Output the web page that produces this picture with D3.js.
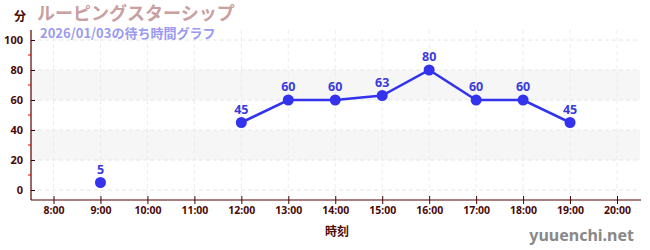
<!DOCTYPE html>
<html>
<head>
<meta charset="utf-8">
<script src="https://cdn.jsdelivr.net/npm/d3@7"></script>
<style>
  body { margin: 0; background: #fff; }
  text { font-family: "Noto Sans CJK JP", "Noto Sans", sans-serif; }
</style>
</head>
<body>
<svg id="chart"></svg>
<script>
// chart data
const hours = ['8:00', '9:00', '10:00', '11:00', '12:00', '13:00', '14:00', '15:00', '16:00', '17:00', '18:00', '19:00', '20:00'];
const waits = [null, 5, null, null, 45, 60, 60, 63, 80, 60, 60, 45, null];
const yTicks = [0, 20, 40, 60, 80, 100];
const yMinor = [10, 30, 50, 70, 90];
const bands = [[20, 40], [60, 80]];
const title = 'ルーピングスターシップ';
const subtitle = '2026/01/03の待ち時間グラフ';

const width = 650, height = 250;
const margin = { top: 30, right: 10, bottom: 50, left: 31 };

const svg = d3.select('#chart')
    .attr('width', width)
    .attr('height', height);

const x = d3.scalePoint()
    .domain(hours)
    .range([53.5, 617]);

const y = d3.scaleLinear()
    .domain([0, 100])
    .range([190, 40]);

const axisY = 200;

// background bands
svg.selectAll('.band')
    .data(bands)
    .enter()
    .append('rect')
    .attr('x', margin.left)
    .attr('y', d => y(d[1]))
    .attr('width', 640 - margin.left)
    .attr('height', d => y(d[0]) - y(d[1]))
    .attr('fill', '#f6f6f6');

// grid lines
svg.selectAll('.hgrid')
    .data(yTicks)
    .enter()
    .append('line')
    .attr('x1', margin.left).attr('x2', 640)
    .attr('y1', d => y(d)).attr('y2', d => y(d))
    .attr('stroke', '#e6e6e6')
    .attr('stroke-dasharray', '4,3');

svg.selectAll('.vgrid')
    .data(hours)
    .enter()
    .append('line')
    .attr('x1', d => x(d)).attr('x2', d => x(d))
    .attr('y1', 30).attr('y2', axisY)
    .attr('stroke', '#ececec')
    .attr('stroke-dasharray', '4,3');

// y axis
const yAxis = d3.axisLeft(y).tickValues(yTicks).tickSize(5).tickPadding(3);
const gy = svg.append('g')
    .attr('transform', `translate(${margin.left},0)`)
    .call(yAxis);
gy.select('.domain').remove();
gy.selectAll('.tick line').attr('x2', 4).attr('stroke', '#400');
gy.selectAll('.tick text')
    .attr('fill', '#4a0a0a')
    .style('font-size', '11px')
    .style('font-weight', 'bold')
    .style('font-family', '"Noto Sans", sans-serif');
svg.append('line')
    .attr('x1', margin.left).attr('x2', margin.left)
    .attr('y1', 30).attr('y2', axisY)
    .attr('stroke', '#500')
    .attr('stroke-width', 1.2);

svg.selectAll('.minor')
    .data(yMinor)
    .enter()
    .append('line')
    .attr('x1', margin.left - 3).attr('x2', margin.left)
    .attr('y1', d => y(d)).attr('y2', d => y(d))
    .attr('stroke', '#d00');

// x axis
const xAxis = d3.axisBottom(x).tickSize(4).tickPadding(3);
const gx = svg.append('g')
    .attr('transform', `translate(0,${axisY})`)
    .call(xAxis);
gx.select('.domain').remove();
gx.selectAll('.tick line').attr('y1', -4).attr('y2', 4).attr('stroke', '#400');
gx.selectAll('.tick text')
    .attr('fill', '#4a0a0a')
    .style('font-size', '10.5px')
    .style('font-weight', 'bold')
    .style('font-family', '"Noto Sans", sans-serif');
svg.append('line')
    .attr('x1', margin.left).attr('x2', 641)
    .attr('y1', axisY).attr('y2', axisY)
    .attr('stroke', '#500')
    .attr('stroke-width', 1.2);

// series
const pts = hours.map((h, i) => ({ h, v: waits[i] }));
const line = d3.line()
    .defined(d => d.v !== null)
    .x(d => x(d.h))
    .y(d => y(d.v));

svg.append('path')
    .datum(pts)
    .attr('d', line)
    .attr('fill', 'none')
    .attr('stroke', '#3333ee')
    .attr('stroke-width', 2.5);

const valid = pts.filter(d => d.v !== null);
svg.selectAll('.dot')
    .data(valid)
    .enter()
    .append('circle')
    .attr('cx', d => x(d.h))
    .attr('cy', d => y(d.v))
    .attr('r', 5.5)
    .attr('fill', '#3333ee');

svg.selectAll('.lbl')
    .data(valid)
    .enter()
    .append('text')
    .attr('x', d => x(d.h))
    .attr('y', d => y(d.v) - 9)
    .attr('text-anchor', 'middle')
    .attr('fill', '#3b3bdd')
    .style('font-size', '12.5px')
    .style('font-weight', 'bold')
    .style('font-family', '"Noto Sans", sans-serif')
    .text(d => d.v);

// titles
svg.append('text')
    .attr('x', 14).attr('y', 21)
    .attr('fill', '#4a0a0a')
    .style('font-size', '12px')
    .style('font-weight', 'bold')
    .text('分');

svg.append('text')
    .attr('x', 37).attr('y', 20)
    .attr('fill', '#c9a0a0')
    .style('font-size', '18px')
    .style('font-weight', 'bold')
    .text(title);

svg.append('text')
    .attr('x', 40).attr('y', 38)
    .attr('fill', '#9a9af0')
    .style('font-size', '13px')
    .style('font-weight', 'bold')
    .text(subtitle);

svg.append('text')
    .attr('x', 337).attr('y', 236)
    .attr('text-anchor', 'middle')
    .attr('fill', '#4a0a0a')
    .style('font-size', '12px')
    .style('font-weight', 'bold')
    .text('時刻');

svg.append('text')
    .attr('x', 634).attr('y', 241)
    .attr('text-anchor', 'end')
    .attr('fill', '#888')
    .style('font-size', '16px')
    .style('font-weight', 'bold')
    .style('font-family', '"Noto Sans", sans-serif')
    .text('yuuenchi.net');
</script>
</body>
</html>
